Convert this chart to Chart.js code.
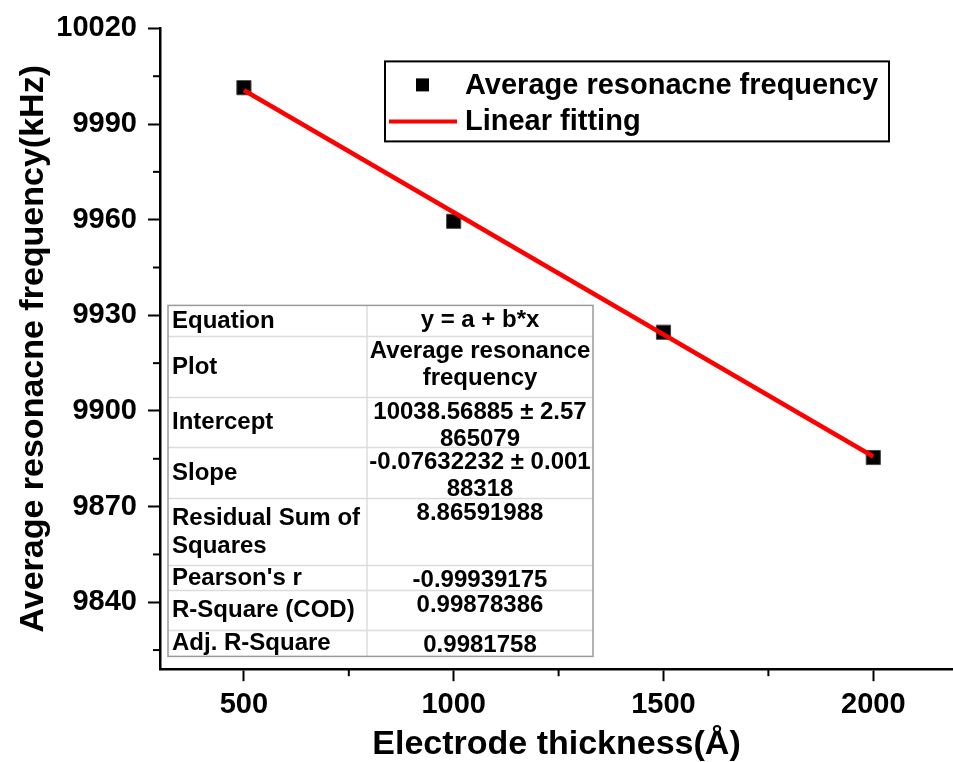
<!DOCTYPE html>
<html>
<head>
<meta charset="utf-8">
<script src="https://cdn.jsdelivr.net/npm/chart.js@4.4.1/dist/chart.umd.min.js"></script>
<style>
  body { margin: 0; background: #fff; }
  canvas { display: block; }
</style>
</head>
<body>
<canvas id="myChart" width="953" height="762"></canvas>
<script>
// data
const thickness = [500, 1000, 1500, 2000];
const avgFreq = [10001.4, 9959.5, 9924.7, 9885.4];
const fitX = [500, 2000];
const fitY = [10000.6, 9885.7];

const xMajorTicks = [500, 1000, 1500, 2000];
const xMinorTicks = [750, 1250, 1750];
const yMajorTicks = [9840, 9870, 9900, 9930, 9960, 9990, 10020];
const yMinorTicks = [9825, 9855, 9885, 9915, 9945, 9975, 10005];

const legendLabels = ['Average resonacne frequency', 'Linear fitting'];

const statLabels = [['Equation'], ['Plot'], ['Intercept'], ['Slope'], ['Residual Sum of', 'Squares'], ["Pearson's r"], ['R-Square (COD)'], ['Adj. R-Square']];
const statValues = [['y = a + b*x'], ['Average resonance', 'frequency'], ['10038.56885 ± 2.57', '865079'], ['-0.07632232 ± 0.001', '88318'], ['8.86591988'], ['-0.99939175'], ['0.99878386'], ['0.9981758']];

const FONT = "'Liberation Sans', Arial, sans-serif";

const ctx1 = document.getElementById('myChart');

// minor ticks, legend box and the fit table
const overlay = {
  id: 'overlay',
  afterDraw(chart) {
    const ctx = chart.ctx;
    const area = chart.chartArea;
    const x = chart.scales.x, y = chart.scales.y;
    ctx.save();

    ctx.strokeStyle = '#000';
    ctx.lineWidth = 2;
    yMinorTicks.forEach(v => {
      const py = y.getPixelForValue(v);
      ctx.beginPath(); ctx.moveTo(area.left - 7, py); ctx.lineTo(area.left, py); ctx.stroke();
    });
    xMinorTicks.forEach(v => {
      const px = x.getPixelForValue(v);
      ctx.beginPath(); ctx.moveTo(px, area.bottom); ctx.lineTo(px, area.bottom + 7); ctx.stroke();
    });

    // legend
    const lx = area.left + 225, ly = area.top + 33;
    ctx.lineWidth = 2;
    ctx.strokeRect(lx, ly, 504, 80);
    ctx.fillStyle = '#000';
    ctx.fillRect(lx + 31, ly + 17, 13, 13);
    ctx.strokeStyle = '#ff0000';
    ctx.lineWidth = 4;
    ctx.beginPath(); ctx.moveTo(lx + 4, ly + 60); ctx.lineTo(lx + 72, ly + 60); ctx.stroke();
    ctx.font = 'bold 29px ' + FONT;
    ctx.textBaseline = 'middle';
    ctx.textAlign = 'left';
    ctx.fillText(legendLabels[0], lx + 80, ly + 25);
    ctx.fillText(legendLabels[1], lx + 80, ly + 61);

    // fit table
    const tl = area.left + 8, tt = area.top + 277;
    const colX = tl + 199, tr = tl + 425;
    const rowH = [31, 61, 50, 51, 67, 25, 40, 26];
    const total = rowH.reduce((a, b) => a + b, 0);
    ctx.fillStyle = '#fff';
    ctx.fillRect(tl, tt, tr - tl, total);
    ctx.strokeStyle = '#dcdcdc';
    ctx.lineWidth = 1.5;
    let top = tt;
    ctx.font = 'bold 24px ' + FONT;
    rowH.forEach((h, i) => {
      if (i > 0) { ctx.beginPath(); ctx.moveTo(tl, top); ctx.lineTo(tr, top); ctx.stroke(); }
      ctx.fillStyle = '#000';
      ctx.textAlign = 'left';
      const lab = statLabels[i];
      const mid = top + h / 2;
      lab.forEach((t, k) => ctx.fillText(t, tl + 4, mid + (k - (lab.length - 1) / 2) * 28));
      ctx.textAlign = 'center';
      statValues[i].forEach((t, k) => ctx.fillText(t, (colX + tr) / 2, top + 15 + k * 27));
      top += h;
    });
    ctx.beginPath(); ctx.moveTo(colX, tt); ctx.lineTo(colX, tt + total); ctx.stroke();
    ctx.strokeStyle = '#9a9a9a';
    ctx.strokeRect(tl, tt, tr - tl, total);

    ctx.restore();
  }
};

new Chart(ctx1, {
  type: 'scatter',
  data: {
    datasets: [{
      label: legendLabels[0],
      data: thickness.map((v, i) => ({x: v, y: avgFreq[i]})),
      pointStyle: 'rect',
      pointRadius: 10,
      pointBackgroundColor: '#000',
      pointBorderColor: '#444',
      pointBorderWidth: 1,
      order: 1
    }, {
      type: 'line',
      label: legendLabels[1],
      data: fitX.map((v, i) => ({x: v, y: fitY[i]})),
      borderColor: '#ff0000',
      borderWidth: 4.5,
      pointRadius: 0,
      fill: false,
      order: 0
    }]
  },
  options: {
    responsive: false,
    animation: false,
    layout: { autoPadding: false, padding: { left: 17, top: 10, right: 0, bottom: 0 } },
    plugins: { legend: { display: false }, tooltip: { enabled: false } },
    scales: {
      x: {
        type: 'linear',
        min: 300,
        max: 2190,
        afterBuildTicks: s => { s.ticks = xMajorTicks.map(v => ({value: v})); },
        afterFit: s => { s.paddingRight = 0; s.paddingLeft = 0; },
        ticks: { callback: v => String(v), color: '#000', padding: 6, maxRotation: 0, font: { size: 29, weight: 'bold', family: FONT, lineHeight: 1.2 } },
        grid: { drawOnChartArea: false, drawTicks: true, tickLength: 12, tickWidth: 2, tickColor: '#000' },
        border: { display: true, color: '#000', width: 2.5 },
        title: { display: true, text: 'Electrode thickness(Å)', color: '#000', padding: { top: 0, bottom: 0 }, font: { size: 34, weight: 'bold', family: FONT, lineHeight: 1.0 } }
      },
      y: {
        min: 9819,
        max: 10020,
        afterBuildTicks: s => { s.ticks = yMajorTicks.map(v => ({value: v})); },
        afterFit: s => { s.width = 143; },
        ticks: { callback: v => String(v), color: '#000', padding: 11, font: { size: 29, weight: 'bold', family: FONT } },
        grid: { drawOnChartArea: false, drawTicks: true, tickLength: 12, tickWidth: 2, tickColor: '#000' },
        border: { display: true, color: '#000', width: 2.5 },
        title: { display: true, text: 'Average resonacne frequency(kHz)', color: '#000', padding: { top: 0, bottom: 4 }, font: { size: 34, weight: 'bold', family: FONT, lineHeight: 1.0 } }
      }
    }
  },
  plugins: [overlay]
});
</script>
</body>
</html>
